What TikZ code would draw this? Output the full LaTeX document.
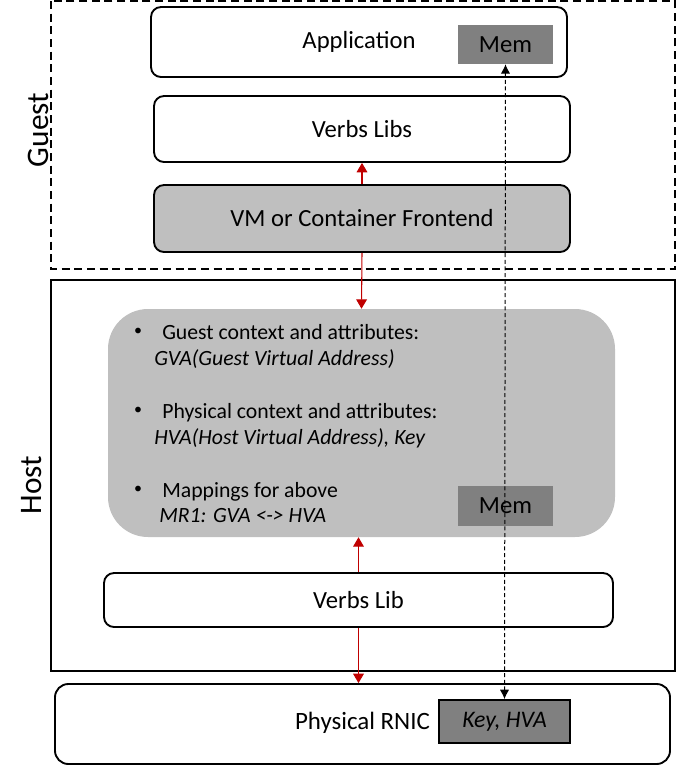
\documentclass[tikz,border=0pt]{standalone}
\usepackage{fontspec}
\setmainfont{Carlito}
\usetikzlibrary{arrows.meta}
\definecolor{boxgray}{HTML}{BFBFBF}
\definecolor{memgray}{HTML}{808080}
\definecolor{linkred}{HTML}{C00000}
\tikzset{
	layer/.style={draw, line width=1.4pt, rounded corners=7.5pt, font=\fontsize{18.5}{22}\selectfont},
	membox/.style={fill=memgray, inner sep=0pt, minimum width=71.25pt, font=\fontsize{18.5}{22}\selectfont},
	bullettxt/.style={anchor=base west, inner sep=0pt, font=\fontsize{16.3}{19}\selectfont},
	bulletdot/.style={inner sep=0pt, font=\fontsize{12}{14}\selectfont},
	redlink/.style={draw=linkred, line width=0.8pt, -{Triangle[width=8pt,length=7pt]}},
	memlink/.style={line width=0.75pt, dash pattern=on 3pt off 2pt, {Latex[width=7pt,length=7pt]}-{Latex[width=7pt,length=7pt]}}
}
\begin{document}
\begin{tikzpicture}[x=0.75pt,y=-0.75pt]
		\useasboundingbox (0,0) rectangle (676,765);
		% guest and host frames
		\draw[line width=1.4pt, dash pattern=on 6pt off 3.5pt] (51,1) rectangle (675,269);
		\draw[line width=1.4pt] (51,280) rectangle (675,671);
		\node[rotate=90, font=\fontsize{23.5}{28}\selectfont] (guestlbl) at (38,130) {Guest};
		\node[rotate=90, font=\fontsize{23.5}{28}\selectfont] (hostlbl) at (32,485) {Host};
		
		% guest side
		\node[layer, minimum width=312pt, minimum height=52.5pt] (app) at (359,42) {Application};
		\node[membox, minimum height=29.25pt] (memtop) at (505.5,44.5) {Mem};
		\node[layer, minimum width=312pt, minimum height=49.5pt] (verbs) at (362,129) {Verbs Libs};
		\node[layer, fill=boxgray, minimum width=312pt, minimum height=50.25pt] (vm) at (362,218.5) {VM or Container Frontend};
		
		% host side
		\node[fill=boxgray, rounded corners=30pt, minimum width=380.25pt, minimum height=171pt] (ctx) at (361.5,423) {};
		\node[bulletdot] (b1) at (138,332) {\textbullet};
		\node[bullettxt] (t1) at (162,339) {Guest context and attributes:};
		\node[bullettxt, font=\fontsize{16.3}{19}\selectfont\itshape] (t1i) at (154,365) {GVA(Guest Virtual Address)};
		\node[bulletdot] (b2) at (138,411) {\textbullet};
		\node[bullettxt] (t2) at (162,418) {Physical context and attributes:};
		\node[bullettxt, font=\fontsize{16.3}{19}\selectfont\itshape] (t2i) at (154,444) {HVA(Host Virtual Address), Key};
		\node[bulletdot] (b3) at (138,490) {\textbullet};
		\node[bullettxt] (t3) at (162,497) {Mappings for above};
		\node[bullettxt, font=\fontsize{16.3}{19}\selectfont\itshape] (t3i) at (159,522) {MR1: GVA <-> HVA};
		\node[membox, minimum height=30pt] (memhost) at (505.5,506) {Mem};
		\node[layer, minimum width=381.75pt, minimum height=40.5pt] (vlib) at (358.5,600) {Verbs Lib};
		
		% physical nic
		\node[layer, rounded corners=10pt, minimum width=461.25pt, minimum height=60pt] (rnic) at (362.5,724) {};
		\node[font=\fontsize{18.7}{22}\selectfont] (rnictxt) at (362.5,723) {Physical RNIC};
		\node[draw, line width=1.4pt, fill=memgray, minimum width=98.25pt, minimum height=32.25pt, font=\fontsize{17.8}{21}\selectfont\itshape] (keyhva) at (504.5,721.5) {Key, HVA};
		
		% links
		\draw[redlink] (vm.north) -- (verbs.south);
		\draw[redlink] (vm.south) -- (ctx.north);
		\draw[redlink] (vlib.north) -- (ctx.south -| vlib.north);
		\draw[redlink] (vlib.south) -- (rnic.north -| vlib.south);
		\draw[memlink] (memtop.south) -- (keyhva.north);
\end{tikzpicture}
\end{document}
